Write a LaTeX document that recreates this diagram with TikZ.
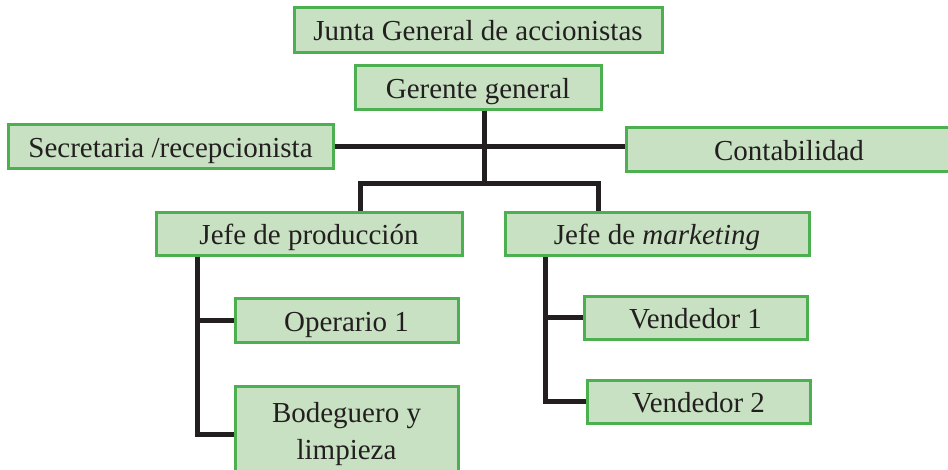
\documentclass[tikz,border=0pt]{standalone}
\usepackage{fontspec}
\setmainfont{Liberation Serif}
\definecolor{boxfill}{RGB}{200,225,194}
\definecolor{boxline}{RGB}{76,176,80}
\definecolor{connline}{RGB}{35,31,32}
\tikzset{
  orgbox/.style={draw=boxline, fill=boxfill, line width=3pt, inner sep=0pt, anchor=center,
    font=\fontsize{29}{37}\selectfont, text=connline, align=center},
  oneline/.style={text height=22pt, text depth=0pt},
  conn/.style={draw=connline, line width=5pt}
}
\begin{document}
\begin{tikzpicture}[x=1pt,y=-1pt]
\useasboundingbox (0,0) rectangle (948,469);
\clip (0,0) rectangle (948,469);
% boxes
\node[orgbox, oneline, minimum width=368pt, minimum height=45pt] (junta) at (478,29.5) {Junta General de accionistas};
\node[orgbox, oneline, minimum width=246pt, minimum height=44pt] (ger) at (478,87) {Gerente general};
\node[orgbox, oneline, minimum width=325pt, minimum height=44pt] (sec) at (170.5,146) {Secretaria /recepcionista};
\node[orgbox, oneline, minimum width=326pt, minimum height=44pt] (cont) at (789,149) {Contabilidad};
\node[orgbox, oneline, minimum width=306pt, minimum height=43pt] (jp) at (309,233.5) {Jefe de producción};
\node[orgbox, oneline, minimum width=304pt, minimum height=43pt] (jm) at (657,233.5) {Jefe de \textit{marketing}};
\node[orgbox, oneline, minimum width=223pt, minimum height=44pt] (op) at (346.5,320) {Operario 1};
\node[orgbox, minimum width=223pt, minimum height=96pt] (bod) at (346.5,434) {Bodeguero y\\limpieza};
\node[orgbox, oneline, minimum width=223pt, minimum height=43pt] (v1) at (695.5,317.5) {Vendedor 1};
\node[orgbox, oneline, minimum width=223pt, minimum height=43pt] (v2) at (698.5,401.5) {Vendedor 2};
% junction coordinates
\coordinate (hub) at (484,149);
\coordinate (br) at (484,183);
\coordinate (brl) at (360,183);
\coordinate (brr) at (598,183);
\coordinate (pl) at (197,0);
\coordinate (ml) at (545,0);
% connectors
\begin{scope}[on background layer/.try]
\draw[conn] (sec.east) -- (cont.west |- sec.east);
\draw[conn] (ger.south -| hub) -- (br);
\draw[conn] (brl |- jp.north) -- (brl) -- (brr) -- (brr |- jm.north);
\draw[conn] (pl |- jp.south) -- (pl |- bod.west) -- (bod.west);
\draw[conn] (pl |- op.west) -- (op.west);
\draw[conn] (ml |- jm.south) -- (ml |- v2.west) -- (v2.west);
\draw[conn] (ml |- v1.west) -- (v1.west);
\end{scope}
\end{tikzpicture}
\end{document}
